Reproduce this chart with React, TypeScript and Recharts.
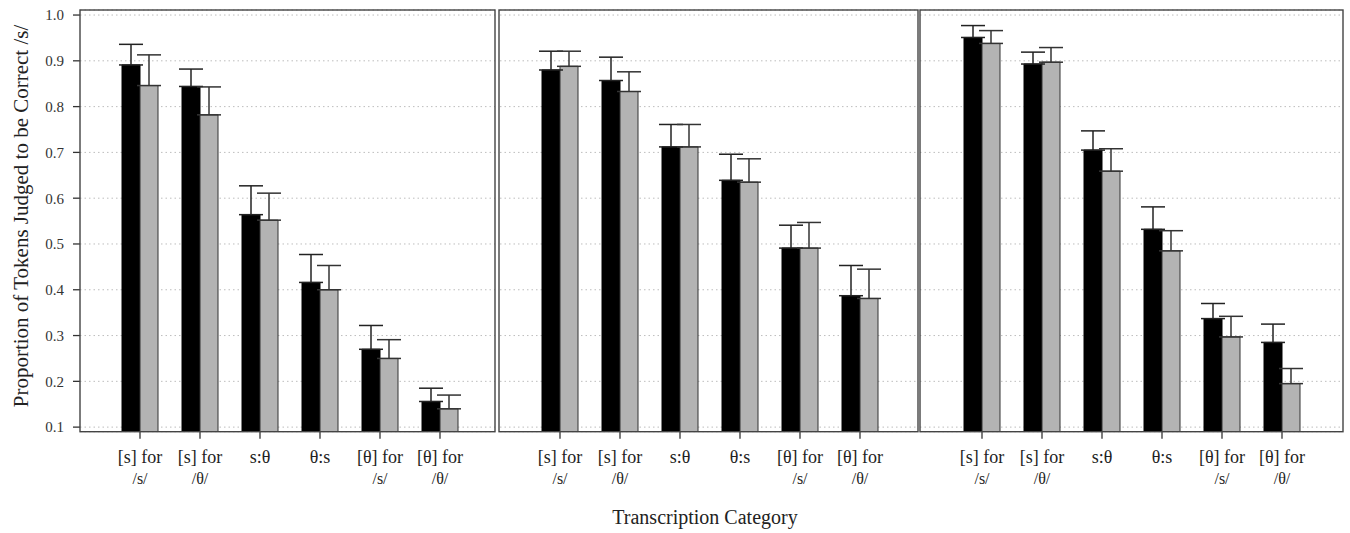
import React from "react"
import { BarChart, Bar, XAxis, YAxis, CartesianGrid, ErrorBar } from "recharts"

// category labels, split in two lines
const catTop = ["[s] for", "[s] for", "s:θ", "θ:s", "[θ] for", "[θ] for"]
const catBottom = ["/s/", "/θ/", "", "", "/s/", "/θ/"]

const yTicks = [0.1, 0.2, 0.3, 0.4, 0.5, 0.6, 0.7, 0.8, 0.9, 1.0]

// bar heights and tops of the error whiskers, per panel
const p1Black = [0.891, 0.844, 0.564, 0.416, 0.27, 0.156]
const p1BlackTop = [0.936, 0.882, 0.627, 0.477, 0.322, 0.185]
const p1Grey = [0.846, 0.782, 0.552, 0.4, 0.25, 0.14]
const p1GreyTop = [0.913, 0.843, 0.611, 0.453, 0.291, 0.17]

const p2Black = [0.88, 0.857, 0.712, 0.639, 0.491, 0.387]
const p2BlackTop = [0.921, 0.908, 0.761, 0.696, 0.541, 0.453]
const p2Grey = [0.888, 0.833, 0.712, 0.635, 0.491, 0.381]
const p2GreyTop = [0.921, 0.876, 0.761, 0.686, 0.547, 0.445]

const p3Black = [0.951, 0.893, 0.705, 0.532, 0.337, 0.285]
const p3BlackTop = [0.977, 0.919, 0.747, 0.581, 0.37, 0.325]
const p3Grey = [0.938, 0.897, 0.659, 0.485, 0.297, 0.195]
const p3GreyTop = [0.966, 0.929, 0.708, 0.529, 0.342, 0.228]

const FONT = "'Liberation Serif', 'DejaVu Serif', serif"
const PLOT_TOP = 10
const PLOT_BOTTOM = 431.7
const CHART_H = 533

const buildRows = (black: number[], blackTop: number[], grey: number[], greyTop: number[]) =>
  catTop.map((c, i) => ({
    idx: i,
    black: black[i],
    grey: grey[i],
    blackErr: [0, +(blackTop[i] - black[i]).toFixed(3)],
    greyErr: [0, +(greyTop[i] - grey[i]).toFixed(3)],
  }))

const CategoryTick = ({ x, y, payload }: any) => {
  const i = payload.value
  return (
    <text x={x} y={y} textAnchor="middle" fontFamily={FONT} fontSize={18} fill="#222">
      <tspan x={x} dy={22}>{catTop[i]}</tspan>
      {catBottom[i] ? (
        <tspan x={x} dy={21} fontSize={16}>{catBottom[i]}</tspan>
      ) : null}
    </text>
  )
}

interface PanelProps {
  left: number
  width: number
  yAxisWidth: number
  padLeft: number
  padRight: number
  black: number[]
  blackTop: number[]
  grey: number[]
  greyTop: number[]
}

function Panel({ left, width, yAxisWidth, padLeft, padRight, black, blackTop, grey, greyTop }: PanelProps) {
  const data = buildRows(black, blackTop, grey, greyTop)
  return (
    <div style={{ position: "absolute", left, top: 0 }}>
      <BarChart
        width={width}
        height={CHART_H}
        data={data}
        margin={{ top: PLOT_TOP, right: 0, bottom: 0, left: 0 }}
        barSize={18}
        barGap={0}
      >
        <CartesianGrid vertical={false} stroke="#bdbdbd" strokeDasharray="1.5 3" />
        <XAxis
          dataKey="idx"
          type="category"
          padding={{ left: padLeft, right: padRight }}
          height={CHART_H - PLOT_BOTTOM}
          axisLine={false}
          tickLine={{ stroke: "#333", strokeWidth: 1.3 }}
          tickSize={7}
          tickMargin={2}
          interval={0}
          tick={<CategoryTick />}
        />
        <YAxis
          type="number"
          domain={[0.09, 1.011]}
          allowDataOverflow
          ticks={yTicks}
          interval={0}
          hide={yAxisWidth === 0}
          width={yAxisWidth}
          axisLine={false}
          tickLine={{ stroke: "#333", strokeWidth: 1.3 }}
          tickSize={7}
          tickMargin={9}
          tickFormatter={(v: number) => v.toFixed(1)}
          tick={{ fontFamily: FONT, fontSize: 15, fill: "#333" }}
        />
        <Bar dataKey="black" fill="#000" stroke="#000" strokeWidth={1} isAnimationActive={false}>
          <ErrorBar dataKey="blackErr" direction="y" width={12} stroke="#222" strokeWidth={1.5} isAnimationActive={false} />
        </Bar>
        <Bar dataKey="grey" fill="#b3b3b3" stroke="#333" strokeWidth={1} isAnimationActive={false}>
          <ErrorBar dataKey="greyErr" direction="y" width={12} stroke="#333" strokeWidth={1.5} isAnimationActive={false} />
        </Bar>
      </BarChart>
    </div>
  )
}

export default function App() {
  return (
    <div style={{ position: "absolute", left: 0, top: 0, width: 1350, height: 533, background: "#fff" }}>
      <Panel left={0} width={495} yAxisWidth={80} padLeft={30} padRight={25}
        black={p1Black} blackTop={p1BlackTop} grey={p1Grey} greyTop={p1GreyTop} />
      <Panel left={500} width={418} yAxisWidth={0} padLeft={30} padRight={28}
        black={p2Black} blackTop={p2BlackTop} grey={p2Grey} greyTop={p2GreyTop} />
      <Panel left={920} width={423} yAxisWidth={0} padLeft={32} padRight={31}
        black={p3Black} blackTop={p3BlackTop} grey={p3Grey} greyTop={p3GreyTop} />
      <svg width={1350} height={533} style={{ position: "absolute", left: 0, top: 0, pointerEvents: "none" }}>
        <g fill="none" stroke="#444" strokeWidth={1.4}>
          <rect x={80} y={PLOT_TOP} width={415} height={PLOT_BOTTOM - PLOT_TOP} />
          <rect x={499} y={PLOT_TOP} width={419} height={PLOT_BOTTOM - PLOT_TOP} />
          <rect x={920} y={PLOT_TOP} width={423} height={PLOT_BOTTOM - PLOT_TOP} />
        </g>
        <text x={28} y={216} transform="rotate(-90, 28, 216)" textAnchor="middle" fontFamily={FONT} fontSize={21} fill="#222">
          Proportion of Tokens Judged to be Correct /s/
        </text>
        <text x={705} y={524} textAnchor="middle" fontFamily={FONT} fontSize={20} fill="#222">
          Transcription Category
        </text>
      </svg>
    </div>
  )
}
